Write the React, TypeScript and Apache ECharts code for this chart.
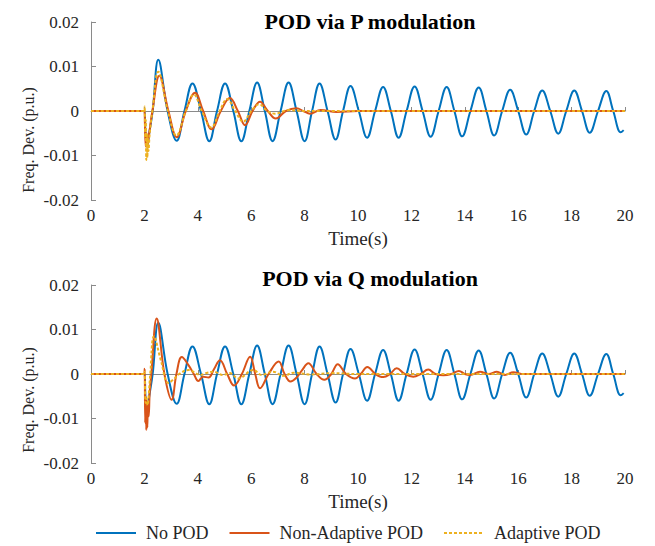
import React, { useEffect, useRef } from "react";
import * as echarts from "echarts";

// ---- data (time [s], frequency deviation [p.u.]) ----
const seriesNames = ["No POD", "Non-Adaptive POD", "Adaptive POD"];
const xTicks = [0, 2, 4, 6, 8, 10, 12, 14, 16, 18, 20];
const yTicks = [-0.02, -0.01, 0, 0.01, 0.02];
const panelTitles = ["POD via P modulation", "POD via Q modulation"];
const yAxisTitle = "Freq. Dev. (p.u.)";
const xAxisTitle = "Time(s)";

// No POD (same in both panels)
const noPOD: [number, number][] = [
  [0, 0], [2.0, 0], [2.04, -0.005], [2.1, -0.008], [2.18, -0.005], [2.31, 0],
  [2.52, 0.0115], [2.87, 0], [3.21, -0.0067], [3.5, 0], [3.8, 0.0062], [4.12, 0],
  [4.43, -0.0068], [4.72, 0], [5.02, 0.0062], [5.33, 0], [5.63, -0.0068], [5.93, 0],
  [6.22, 0.0064], [6.51, 0], [6.8, -0.0068], [7.1, 0], [7.4, 0.0064], [7.7, 0],
  [8.0, -0.0068], [8.28, 0], [8.56, 0.0062], [8.86, 0], [9.16, -0.0064], [9.44, 0],
  [9.72, 0.0056], [10.03, 0], [10.34, -0.006], [10.64, 0], [10.94, 0.0054], [11.23, 0],
  [11.52, -0.006], [11.82, 0], [12.12, 0.0055], [12.42, 0], [12.72, -0.0058], [13.02, 0],
  [13.32, 0.0054], [13.61, 0], [13.9, -0.0057], [14.21, 0], [14.52, 0.0053], [14.81, 0],
  [15.1, -0.0055], [15.4, 0], [15.7, 0.0048], [16.0, 0], [16.3, -0.0053], [16.6, 0],
  [16.9, 0.0046], [17.2, 0], [17.5, -0.0051], [17.8, 0], [18.1, 0.0046], [18.39, 0],
  [18.68, -0.0049], [18.99, 0], [19.3, 0.0045], [19.56, 0], [19.84, -0.0048], [19.95, -0.0043],
];

// P modulation
const nonAdaptiveP: [number, number][] = [
  [0, 0], [2.0, 0], [2.02, -0.003], [2.05, -0.008], [2.08, -0.005], [2.12, -0.0075],
  [2.18, -0.005], [2.3, 0], [2.56, 0.0079], [2.9, 0], [3.21, -0.0059], [3.55, 0],
  [3.9, 0.0041], [4.2, 0], [4.52, -0.0041], [4.86, 0], [5.2, 0.0029], [5.5, 0],
  [5.77, -0.0032], [6.05, 0], [6.33, 0.0021], [6.62, 0], [6.92, -0.0017], [7.3, 0],
  [7.7, 0.0006], [7.95, 0], [8.2, -0.0006], [8.6, 0.0002], [9.2, -0.0002], [10.0, 0],
  [20, 0],
];
const adaptiveP: [number, number][] = [
  [0, 0], [2.0, 0], [2.01, 0.001], [2.03, -0.006], [2.05, -0.002], [2.07, -0.011],
  [2.09, -0.005], [2.11, -0.0105], [2.13, -0.006], [2.15, -0.009], [2.2, -0.005],
  [2.3, 0], [2.52, 0.0088], [2.88, 0], [3.2, -0.0055], [3.55, 0], [3.85, 0.0037],
  [4.15, 0], [4.5, -0.0037], [4.82, 0], [5.1, 0.0027], [5.4, 0], [5.7, -0.0024],
  [6.0, 0], [6.3, 0.0015], [6.6, 0], [6.9, -0.0006], [7.4, 0.0002], [8.0, 0], [20, 0],
];

// Q modulation
const nonAdaptiveQ: [number, number][] = [
  [0, 0], [2.0, 0], [2.01, 0.0012], [2.03, -0.011], [2.05, -0.005], [2.07, -0.0126],
  [2.09, -0.006], [2.11, -0.012], [2.13, -0.007], [2.16, -0.0095], [2.2, -0.004],
  [2.26, 0], [2.46, 0.0125], [2.75, 0], [3.02, -0.0058], [3.2, 0], [3.4, 0.0038],
  [3.65, 0.002], [3.85, 0], [4.02, -0.0016], [4.2, -0.0006], [4.4, -0.0008], [4.6, 0.001],
  [4.83, 0.0031], [5.1, 0], [5.36, -0.0026], [5.65, 0], [5.96, 0.0039], [6.15, 0],
  [6.33, -0.0032], [6.65, 0], [7.03, 0.0028], [7.25, 0], [7.47, -0.0017], [7.7, -0.0008],
  [7.9, 0.0008], [8.14, 0.0024], [8.45, 0], [8.74, -0.0013], [9.0, 0], [9.24, 0.0022],
  [9.55, 0], [9.89, -0.001], [10.1, 0], [10.35, 0.0016], [10.65, 0], [10.95, -0.0007],
  [11.2, 0], [11.45, 0.0013], [11.75, 0], [12.07, -0.0006], [12.35, 0], [12.63, 0.001],
  [12.9, 0], [13.2, -0.0003], [13.5, 0], [13.78, 0.0007], [14.0, 0], [14.2, -0.0002],
  [14.57, 0.0005], [14.9, 0], [15.2, 0.0005], [15.5, -0.0002], [15.82, 0.0004],
  [16.2, 0], [20, 0],
];
const adaptiveQ: [number, number][] = [
  [0, 0], [2.0, 0], [2.01, 0.0005], [2.03, -0.005], [2.05, -0.0065], [2.08, -0.0055],
  [2.12, -0.007], [2.16, -0.005], [2.22, 0], [2.36, 0.0085], [2.62, 0.003], [2.9, -0.002],
  [3.13, -0.001], [3.3, 0], [3.65, 0.0009], [4.1, -0.0002], [4.3, 0.0002], [4.6, 0.0005],
  [4.94, -0.0002], [5.2, 0.0002], [5.52, -0.001], [6.08, 0.0009], [6.39, -0.0002],
  [6.82, 0.0005], [7.2, -0.0004], [7.6, 0.0003], [8.2, -0.0001], [9.0, 0.0002],
  [10.0, 0], [20, 0],
];

const COLORS = ["#0072BD", "#D95319", "#EDB120"];
const FONT = "Liberation Serif";
const TEXT = "#262626";
const AXIS = "#8a8a8a";

export default function App() {
  const ref = useRef<HTMLDivElement>(null);

  useEffect(() => {
    if (!ref.current) return;
    const chart = echarts.init(ref.current, undefined, { renderer: "svg" });

    const grids = [
      { left: 91, right: 30, top: 22, height: 178 },
      { left: 91, right: 30, top: 285, height: 178 },
    ];

    const labelStyle = { fontFamily: FONT, fontSize: 17, color: TEXT };

    const makeX = (gi: number) => ({
      type: "value",
      gridIndex: gi,
      min: xTicks[0],
      max: xTicks[xTicks.length - 1],
      interval: 2,
      name: xAxisTitle,
      nameLocation: "middle",
      nameGap: 29,
      nameTextStyle: { fontFamily: FONT, fontSize: 19, color: TEXT },
      axisLine: { show: true, lineStyle: { color: AXIS, width: 1 } },
      axisTick: { show: true, inside: true, length: 4, lineStyle: { color: AXIS } },
      axisLabel: { ...labelStyle, margin: 7 },
      splitLine: { show: false },
    });
    const makeY = (gi: number) => ({
      type: "value",
      gridIndex: gi,
      min: yTicks[0],
      max: yTicks[yTicks.length - 1],
      interval: 0.01,
      axisLine: { show: true, lineStyle: { color: AXIS, width: 1 } },
      axisTick: { show: true, inside: true, length: 5, lineStyle: { color: AXIS } },
      axisLabel: {
        ...labelStyle,
        margin: 12,
        formatter: (v: number) => (Math.abs(v) < 1e-9 ? "0" : String(Math.round(v * 100) / 100)),
      },
      splitLine: { show: false },
    });

    const line = (name: string, data: [number, number][], gi: number, ci: number, dashed: boolean) => ({
      type: "line",
      name,
      xAxisIndex: gi,
      yAxisIndex: gi,
      data,
      smooth: 0.4,
      symbol: "none",
      showSymbol: false,
      z: 2 + ci,
      lineStyle: {
        color: COLORS[ci],
        width: 2,
        type: dashed ? [3, 2] : "solid",
      },
      itemStyle: { color: COLORS[ci] },
    });

    const yTitle = (cy: number) => ({
      type: "text",
      x: 28,
      y: cy,
      rotation: Math.PI / 2,
      style: {
        text: yAxisTitle,
        fontFamily: FONT,
        fontSize: 16,
        fill: TEXT,
        align: "center",
        verticalAlign: "middle",
      },
    });

    chart.setOption({
      animation: false,
      backgroundColor: "#ffffff",
      textStyle: { fontFamily: FONT },
      title: [
        {
          text: panelTitles[0],
          left: 365,
          top: 5,
          textAlign: "center",
          textStyle: { fontFamily: FONT, fontSize: 22, fontWeight: "bold", color: "#000" },
        },
        {
          text: panelTitles[1],
          left: 365,
          top: 262,
          textAlign: "center",
          textStyle: { fontFamily: FONT, fontSize: 22, fontWeight: "bold", color: "#000" },
        },
      ],
      legend: {
        data: seriesNames,
        left: 95,
        top: 524,
        padding: 0,
        itemWidth: 40,
        itemHeight: 12,
        itemGap: 20,
        itemStyle: { opacity: 0 },
        textStyle: { fontFamily: FONT, fontSize: 18, color: TEXT, padding: [0, 0, 0, 5] },
      },
      graphic: [yTitle(140), yTitle(400)],
      grid: grids,
      xAxis: [makeX(0), makeX(1)],
      yAxis: [makeY(0), makeY(1)],
      series: [
        line(seriesNames[0], noPOD, 0, 0, false),
        line(seriesNames[1], nonAdaptiveP, 0, 1, false),
        line(seriesNames[2], adaptiveP, 0, 2, true),
        line(seriesNames[0], noPOD, 1, 0, false),
        line(seriesNames[1], nonAdaptiveQ, 1, 1, false),
        line(seriesNames[2], adaptiveQ, 1, 2, true),
      ],
    });

    return () => chart.dispose();
  }, []);

  return (
    <div
      ref={ref}
      style={{ position: "fixed", left: 0, top: 0, width: 655, height: 546, background: "#fff" }}
    />
  );
}
